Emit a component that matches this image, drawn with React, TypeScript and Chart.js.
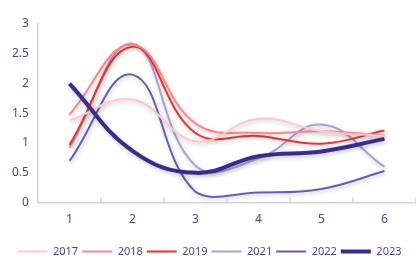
import React, { useEffect, useRef } from "react";
import { Chart, registerables } from "chart.js";

Chart.register(...registerables);

const categories = ["1", "2", "3", "4", "5", "6"];
const seriesNames = ["2017", "2018", "2019", "2021", "2022", "2023"];
const v2017 = [1.38, 1.73, 1.03, 1.41, 1.2, 1.12];
const v2018 = [1.48, 2.65, 1.33, 1.17, 1.2, 1.13];
const v2019 = [0.97, 2.62, 1.17, 1.12, 0.99, 1.21];
const v2021 = [0.92, 2.67, 0.62, 0.74, 1.31, 0.6];
const v2022 = [0.7, 2.15, 0.18, 0.17, 0.23, 0.53];
const v2023 = [2.0, 0.87, 0.5, 0.78, 0.86, 1.07];
const yTicks = [0, 0.5, 1, 1.5, 2, 2.5, 3];

const values = [v2017, v2018, v2019, v2021, v2022, v2023];
const colors = ["#ffc9c9", "#ff8585", "#ff2a2a", "#aaa2d2", "#6a5cb2", "#3a2c8e"];
const widths = [2, 2, 2, 2, 2, 4];
const textColor = "#4d41a0";
const axisColor = "#d4d4d4";

const shadowPlugin = {
  id: "shadow",
  beforeDatasetsDraw(chart: any) {
    const ctx = chart.ctx;
    ctx.save();
    ctx.shadowColor = "rgba(0,0,0,0.22)";
    ctx.shadowBlur = 4;
    ctx.shadowOffsetX = 1;
    ctx.shadowOffsetY = 2;
  },
  afterDatasetsDraw(chart: any) {
    chart.ctx.restore();
  },
};

const innerTicksPlugin = {
  id: "innerTicks",
  afterDraw(chart: any) {
    const ctx = chart.ctx;
    const xs = chart.scales.x;
    const bottom = chart.chartArea.bottom;
    ctx.save();
    ctx.strokeStyle = axisColor;
    ctx.lineWidth = 1.5;
    for (let i = 0; i < categories.length; i++) {
      const x = xs.getPixelForValue(i + 0.5);
      ctx.beginPath();
      ctx.moveTo(x, bottom);
      ctx.lineTo(x, bottom - 5);
      ctx.stroke();
    }
    ctx.restore();
  },
};

export default function App() {
  const ref = useRef<HTMLCanvasElement>(null);
  useEffect(() => {
    document.body.style.margin = "0";
    const chart = new Chart(ref.current!, {
      type: "line",
      data: {
        labels: categories,
        datasets: seriesNames.map((name, i) => ({
          label: name,
          data: values[i],
          borderColor: colors[i],
          backgroundColor: colors[i],
          borderWidth: widths[i],
          tension: 0.42,
          pointRadius: 0,
          fill: false,
          order: name === "2023" ? 0 : 1,
        })),
      },
      options: {
        animation: false,
        responsive: false,
        maintainAspectRatio: false,
        layout: { padding: { top: 24, right: 0, left: 3, bottom: -8 } },
        plugins: {
          tooltip: { enabled: false },
          legend: {
            position: "bottom",
            labels: {
              boxWidth: 30,
              boxHeight: 0,
              padding: 4,
              color: textColor,
              font: { size: 11, family: "'Noto Sans', sans-serif" },
              sort: (a: any, b: any) => a.datasetIndex - b.datasetIndex,
            },
          },
        },
        scales: {
          x: {
            offset: true,
            grid: { display: false, drawTicks: false },
            border: { display: true, color: axisColor, width: 1.5 },
            afterFit(scale: any) {
              scale.height += 5;
            },
            ticks: {
              color: textColor,
              padding: 10,
              font: { size: 12, family: "'Noto Sans', sans-serif" },
            },
          },
          y: {
            min: 0,
            max: 3,
            afterBuildTicks(scale: any) {
              scale.ticks = yTicks.map((v) => ({ value: v }));
            },
            grid: { display: false, drawTicks: false },
            border: { display: true, color: axisColor, width: 1.5 },
            ticks: {
              color: textColor,
              padding: 9,
              callback: (v: any) => String(v),
              font: { size: 12, family: "'Noto Sans', sans-serif" },
            },
          },
        },
      },
      plugins: [shadowPlugin, innerTicksPlugin],
    } as any);
    return () => chart.destroy();
  }, []);
  return (
    <div style={{ width: 416, height: 259 }}>
      <canvas ref={ref} width={416} height={259} />
    </div>
  );
}
